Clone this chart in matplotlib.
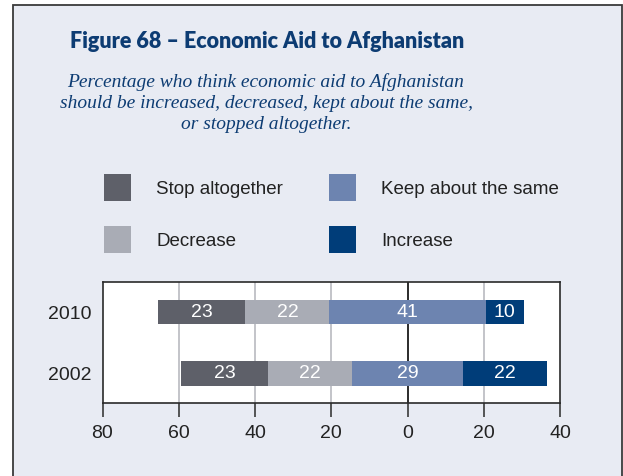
import numpy as np
import matplotlib
matplotlib.use('Agg')
from matplotlib import pyplot as plt
from matplotlib.patches import Rectangle

years = ['2010', '2002']
stop = [23, 23]
decrease = [22, 22]
keep = [41, 29]
increase = [10, 22]
series_names = ['Stop altogether', 'Decrease', 'Keep about the same', 'Increase']
colors = ['#5e6069', '#a9acb5', '#6d84b0', '#003d79']
xticks = [-80, -60, -40, -20, 0, 20, 40]

plt.rcParams['font.family'] = ['Liberation Sans', 'DejaVu Sans']

fig = plt.figure(figsize=(6.23, 4.76), dpi=100, facecolor='white')
W, H = 623, 476

# background panel with frame
fig.patches.append(Rectangle((12.5 / W, -0.05), 609 / W, 1 - 5.5 / H + 0.05,
                             transform=fig.transFigure, facecolor='#e8ebf3',
                             edgecolor='#3a3a3a', linewidth=1.3, zorder=-10))

title_color = '#0d3c73'
fig.text(267 / W, 1 - 42 / H, 'Figure 68 \u2013 Economic Aid to Afghanistan',
         ha='center', va='center', fontsize=15.5, fontweight='heavy',
         family=['Lato', 'DejaVu Sans'], color=title_color)
fig.text(266 / W, 1 - 103 / H,
         'Percentage who think economic aid to Afghanistan\n'
         'should be increased, decreased, kept about the same,\n'
         'or stopped altogether.',
         ha='center', va='center', fontsize=14, fontstyle='italic',
         family=['Liberation Serif', 'DejaVu Serif'], color=title_color,
         linespacing=1.32)

ax = fig.add_axes([102.5 / W, 73 / H, 457.5 / W, 121 / H])
ax.set_facecolor('white')

y = np.arange(len(years))[::-1]
stop_a = np.array(stop, float)
dec_a = np.array(decrease, float)
keep_a = np.array(keep, float)
inc_a = np.array(increase, float)
start = -(stop_a + dec_a + keep_a / 2)
segments = [stop_a, dec_a, keep_a, inc_a]

left = start.copy()
handles = []
for vals, name, col in zip(segments, series_names, colors):
    bars = ax.barh(y, vals, left=left, height=0.4, color=col, label=name, zorder=3)
    handles.append(bars)
    for yi, l, v in zip(y, left, vals):
        ax.text(l + v / 2, yi, f'{int(v)}', ha='center', va='center',
                color='white', fontsize=14, zorder=4)
    left = left + vals

for gx in [-60, -40, -20, 20]:
    ax.axvline(gx, color='#c3c4c9', linewidth=1.4, zorder=1)
ax.axvline(0, color='#1a1a1a', linewidth=1.3, zorder=2)

ax.set_xlim(-80, 40)
ax.set_ylim(-0.48, 1.49)
ax.set_xticks(xticks)
ax.set_xticklabels([str(abs(t)) for t in xticks])
ax.set_yticks(y)
ax.set_yticklabels(years)
ax.tick_params(axis='x', direction='out', length=10, width=1.1, color='#2a2a2a',
               pad=6, labelsize=14, labelcolor='#222222')
ax.tick_params(axis='y', length=0, pad=8, labelsize=14, labelcolor='#222222')
for s in ax.spines.values():
    s.set_color('#2a2a2a')
    s.set_linewidth(1.2)

fig.legend(handles=handles, labels=series_names, ncol=2, loc='upper left',
           bbox_to_anchor=(104 / W, 1 - 174 / H), frameon=False, fontsize=13.5,
           handlelength=1.44, handleheight=1.84, handletextpad=1.35,
           columnspacing=2.45, labelspacing=1.35, borderpad=0, borderaxespad=0,
           labelcolor='#222222')

fig.savefig('out.png', dpi=100, facecolor='white')
